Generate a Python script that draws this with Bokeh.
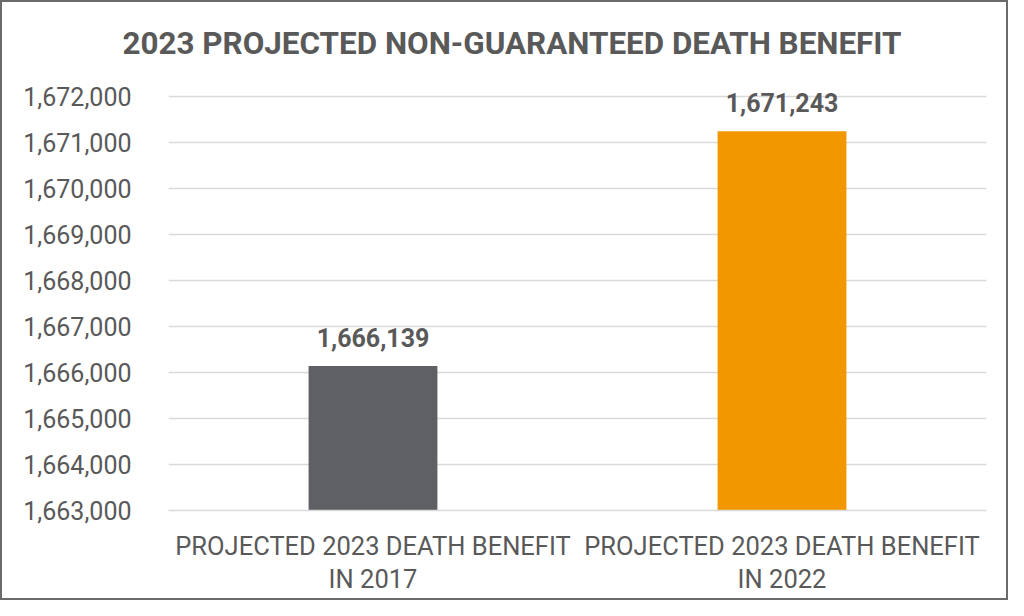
from bokeh.plotting import figure
from bokeh.models import ColumnDataSource, Range1d, FixedTicker, NumeralTickFormatter, Title, LabelSet
from bokeh.core.properties import value
from bokeh.embed import file_html
from bokeh.resources import INLINE

title_text = "2023 PROJECTED NON-GUARANTEED DEATH BENEFIT"
categories = ["PROJECTED 2023 DEATH BENEFIT\nIN 2017", "PROJECTED 2023 DEATH BENEFIT\nIN 2022"]
values = [1666139, 1671243]
colors = ["#5f6064", "#f39700"]
y_ticks = [1663000, 1664000, 1665000, 1666000, 1667000, 1668000, 1669000, 1670000, 1671000, 1672000]

TEXT = "#595959"
FONT = "Roboto"

W, H = 1008, 600
TOP, BOTTOM, LEFT, RIGHT = 60, 92, 166, 24
GRID_PX = 414  # pixel height between lowest and highest tick
frame_h = H - TOP - BOTTOM
y_end = y_ticks[0] + (y_ticks[-1] - y_ticks[0]) * frame_h / GRID_PX

src = ColumnDataSource(dict(
    cat=categories,
    val=values,
    color=colors,
    label=[f"{v:,}" for v in values],
    base=[y_ticks[0]] * len(values),
))

p = figure(x_range=categories, y_range=Range1d(y_ticks[0], y_end),
           width=W, height=H, output_backend="svg", toolbar_location=None,
           min_border_left=LEFT, min_border_right=RIGHT, min_border_top=TOP, min_border_bottom=BOTTOM)
p.styles = {"border": "2px solid #6b6b6b", "box-sizing": "border-box"}
p.title = Title(text=title_text, align="left", offset=-46, standoff=2, text_font=FONT,
                text_font_size="31.4px", text_font_style="bold", text_color=TEXT)

p.vbar(x="cat", top="val", bottom="base", width=0.315, fill_color="color", line_color=None, source=src)
p.add_layout(LabelSet(x="cat", y="val", text="label", source=src, text_align="center",
                      text_baseline="bottom", y_offset=19, text_font=value(FONT), text_font_size="25px",
                      text_font_style="bold", text_color=TEXT))

p.outline_line_color = None
p.xgrid.grid_line_color = None
p.ygrid.grid_line_color = "#d9d9d9"
p.ygrid.grid_line_width = 1.5

p.yaxis.ticker = FixedTicker(ticks=y_ticks)
p.yaxis.formatter = NumeralTickFormatter(format="0,0")
p.yaxis.axis_line_color = None
p.yaxis.major_tick_line_color = None
p.yaxis.minor_tick_line_color = None
p.yaxis.major_label_text_font = FONT
p.yaxis.major_label_text_font_size = "25px"
p.yaxis.major_label_text_color = TEXT
p.yaxis.major_label_standoff = 31

p.xaxis.axis_line_color = "#d9d9d9"
p.xaxis.axis_line_width = 1.5
p.xaxis.major_tick_line_color = None
p.xaxis.minor_tick_line_color = None
p.xaxis.major_label_text_font = FONT
p.xaxis.major_label_text_font_size = "25.5px"
p.xaxis.major_label_text_color = TEXT
p.xaxis.major_label_standoff = 14
p.xaxis.major_label_text_line_height = 1.1

open("out.html", "w").write(file_html(p, INLINE))
